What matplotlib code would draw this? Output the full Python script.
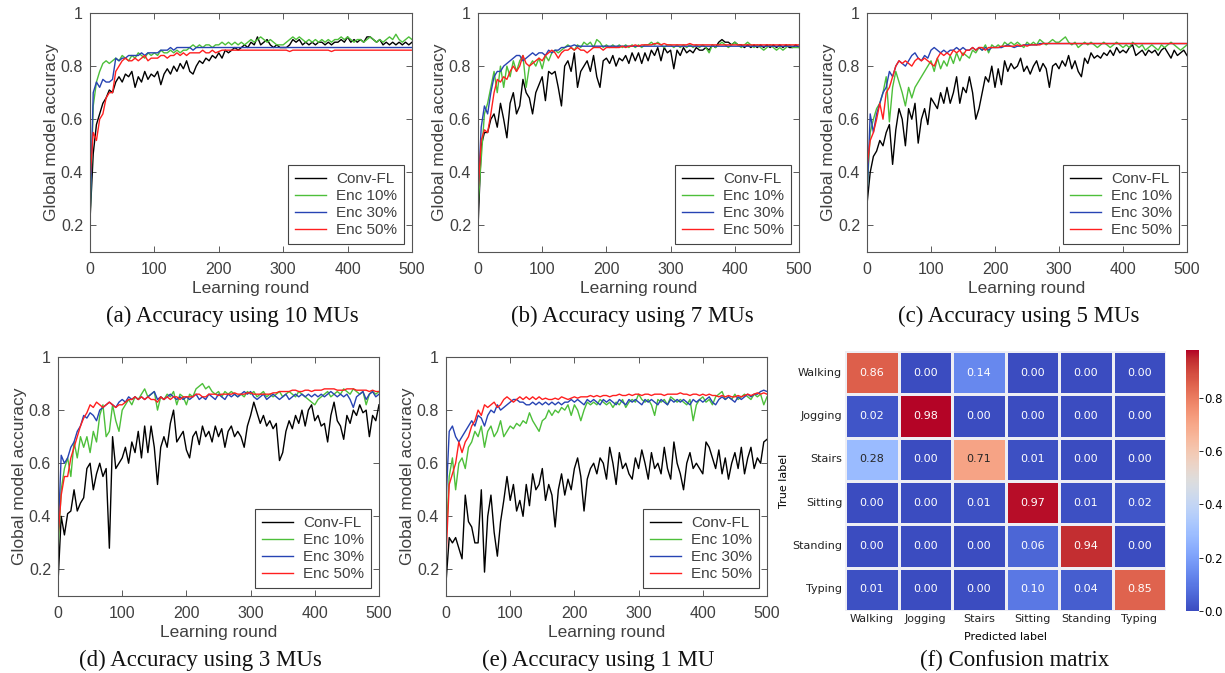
import numpy as np
import matplotlib
matplotlib.use('Agg')
import matplotlib.pyplot as plt
import seaborn as sns

rounds = list(range(0, 501, 5))

# ---- (a) 10 MUs ----
conv_a = [0.22, 0.47, 0.58, 0.62, 0.66, 0.68, 0.71, 0.70, 0.74, 0.76,
          0.74, 0.77, 0.76, 0.78, 0.72, 0.76, 0.74, 0.78, 0.75, 0.77,
          0.76, 0.78, 0.73, 0.77, 0.79, 0.77, 0.80, 0.78, 0.81, 0.79,
          0.82, 0.78, 0.77, 0.80, 0.82, 0.81, 0.83, 0.82, 0.84, 0.83,
          0.85, 0.83, 0.86, 0.85, 0.86, 0.87, 0.86, 0.87, 0.88, 0.87,
          0.89, 0.88, 0.91, 0.88, 0.89, 0.90, 0.88, 0.87, 0.88, 0.87,
          0.87, 0.87, 0.88, 0.90, 0.89, 0.90, 0.88, 0.89, 0.88, 0.89,
          0.88, 0.89, 0.89, 0.88, 0.89, 0.88, 0.89, 0.89, 0.90, 0.89,
          0.91, 0.89, 0.90, 0.89, 0.90, 0.89, 0.91, 0.91, 0.90, 0.89,
          0.90, 0.88, 0.89, 0.88, 0.89, 0.88, 0.89, 0.88, 0.89, 0.88,
          0.89]
enc10_a = [0.22, 0.65, 0.74, 0.78, 0.81, 0.82, 0.81, 0.82, 0.83, 0.82,
           0.84, 0.83, 0.82, 0.84, 0.83, 0.85, 0.84, 0.83, 0.85, 0.84,
           0.85, 0.84, 0.86, 0.85, 0.85, 0.86, 0.85, 0.86, 0.85, 0.86,
           0.86, 0.87, 0.88, 0.87, 0.88, 0.87, 0.88, 0.88, 0.87, 0.88,
           0.88, 0.89, 0.88, 0.89, 0.88, 0.89, 0.88, 0.89, 0.88, 0.89,
           0.90, 0.89, 0.90, 0.91, 0.90, 0.89, 0.90, 0.89, 0.88, 0.88,
           0.88, 0.89, 0.90, 0.91, 0.90, 0.91, 0.90, 0.89, 0.90, 0.89,
           0.90, 0.89, 0.90, 0.89, 0.90, 0.89, 0.90, 0.90, 0.91, 0.90,
           0.91, 0.90, 0.89, 0.90, 0.90, 0.89, 0.90, 0.91, 0.90, 0.89,
           0.90, 0.89, 0.90, 0.91, 0.90, 0.92, 0.90, 0.89, 0.90, 0.91,
           0.90]
enc30_a = [0.22, 0.70, 0.74, 0.72, 0.75, 0.74, 0.74, 0.75, 0.83, 0.82,
           0.83, 0.83, 0.84, 0.84, 0.84, 0.84, 0.85, 0.84, 0.85, 0.85,
           0.85, 0.85, 0.86, 0.86, 0.86, 0.87, 0.86, 0.87, 0.87, 0.87,
           0.87, 0.87, 0.86, 0.87, 0.87, 0.87, 0.87, 0.87, 0.87, 0.87,
           0.87, 0.87, 0.87, 0.87, 0.87, 0.87, 0.87, 0.87, 0.87, 0.87,
           0.87, 0.87, 0.87, 0.87, 0.87, 0.87, 0.87, 0.87, 0.87, 0.87,
           0.87, 0.87, 0.87, 0.87, 0.87, 0.87, 0.87, 0.87, 0.87, 0.87,
           0.87, 0.87, 0.87, 0.87, 0.87, 0.87, 0.87, 0.87, 0.87, 0.87,
           0.87, 0.87, 0.87, 0.87, 0.87, 0.87, 0.87, 0.87, 0.87, 0.87,
           0.87, 0.87, 0.87, 0.87, 0.87, 0.87, 0.87, 0.87, 0.87, 0.87,
           0.87]
enc50_a = [0.37, 0.55, 0.52, 0.60, 0.62, 0.68, 0.70, 0.70, 0.78, 0.80,
           0.82, 0.83, 0.82, 0.82, 0.83, 0.82, 0.83, 0.84, 0.82, 0.83,
           0.83, 0.83, 0.84, 0.84, 0.83, 0.84, 0.84, 0.85, 0.84, 0.85,
           0.84, 0.85, 0.85, 0.85, 0.85, 0.86, 0.85, 0.85, 0.86, 0.85,
           0.855, 0.86, 0.86, 0.86, 0.86, 0.86, 0.86, 0.86, 0.86, 0.86,
           0.86, 0.86, 0.86, 0.86, 0.86, 0.86, 0.86, 0.86, 0.86, 0.86,
           0.86, 0.86, 0.855, 0.86, 0.86, 0.86, 0.86, 0.86, 0.86, 0.86,
           0.86, 0.86, 0.86, 0.86, 0.86, 0.855, 0.86, 0.86, 0.86, 0.86,
           0.86, 0.86, 0.86, 0.86, 0.86, 0.86, 0.86, 0.86, 0.86, 0.86,
           0.86, 0.86, 0.86, 0.86, 0.86, 0.86, 0.86, 0.86, 0.86, 0.86,
           0.86]

# ---- (b) 7 MUs ----
conv_b = [0.19, 0.50, 0.55, 0.55, 0.60, 0.62, 0.57, 0.66, 0.60, 0.53,
          0.66, 0.70, 0.62, 0.65, 0.75, 0.70, 0.68, 0.62, 0.70, 0.73,
          0.76, 0.67, 0.78, 0.77, 0.78, 0.72, 0.65, 0.80, 0.82, 0.78,
          0.85, 0.72, 0.78, 0.80, 0.82, 0.78, 0.84, 0.76, 0.72, 0.82,
          0.83, 0.81, 0.84, 0.80, 0.83, 0.82, 0.84, 0.81, 0.85, 0.82,
          0.85, 0.81, 0.85, 0.82, 0.86, 0.84, 0.87, 0.82, 0.87, 0.85,
          0.86, 0.79, 0.86, 0.84, 0.87, 0.85, 0.86, 0.85, 0.87, 0.86,
          0.86, 0.87, 0.86, 0.88, 0.87, 0.89, 0.90, 0.89, 0.89, 0.88,
          0.89, 0.88, 0.88, 0.87, 0.88, 0.87, 0.88, 0.87, 0.88, 0.87,
          0.88, 0.87, 0.88, 0.87, 0.88, 0.87, 0.88, 0.87, 0.87, 0.88,
          0.87]
enc10_b = [0.27, 0.45, 0.62, 0.66, 0.72, 0.78, 0.70, 0.80, 0.72, 0.80,
           0.76, 0.82, 0.78, 0.82, 0.84, 0.72, 0.80, 0.82, 0.80, 0.83,
           0.79, 0.84, 0.82, 0.85, 0.86, 0.85, 0.86, 0.87, 0.88, 0.87,
           0.86, 0.88, 0.87, 0.89, 0.88, 0.89, 0.87, 0.90, 0.89, 0.87,
           0.88, 0.87, 0.88, 0.87, 0.88, 0.87, 0.88, 0.87, 0.88, 0.87,
           0.88, 0.87, 0.88, 0.88, 0.89, 0.88, 0.89, 0.88, 0.87, 0.88,
           0.88, 0.87, 0.88, 0.87, 0.88, 0.87, 0.88, 0.87, 0.88, 0.87,
           0.88, 0.87, 0.85, 0.88, 0.87, 0.88, 0.89, 0.88, 0.87, 0.88,
           0.89, 0.88, 0.87, 0.88, 0.89, 0.88, 0.87, 0.88, 0.87, 0.86,
           0.87, 0.88, 0.87, 0.86, 0.87, 0.86, 0.87, 0.88, 0.87, 0.87,
           0.87]
enc30_b = [0.32, 0.57, 0.65, 0.62, 0.70, 0.76, 0.78, 0.78, 0.80, 0.81,
           0.82, 0.83, 0.84, 0.84, 0.82, 0.83, 0.84, 0.85, 0.84, 0.85,
           0.85, 0.84, 0.86, 0.85, 0.86, 0.86, 0.87, 0.87, 0.875, 0.875,
           0.88, 0.875, 0.875, 0.875, 0.875, 0.875, 0.875, 0.875, 0.875, 0.875,
           0.875, 0.875, 0.875, 0.875, 0.875, 0.875, 0.875, 0.875, 0.875, 0.875,
           0.875, 0.875, 0.875, 0.875, 0.875, 0.875, 0.875, 0.875, 0.875, 0.875,
           0.875, 0.875, 0.875, 0.875, 0.875, 0.875, 0.875, 0.875, 0.875, 0.875,
           0.875, 0.875, 0.875, 0.875, 0.875, 0.875, 0.875, 0.875, 0.875, 0.875,
           0.875, 0.875, 0.875, 0.875, 0.875, 0.875, 0.875, 0.875, 0.875, 0.875,
           0.875, 0.875, 0.875, 0.875, 0.875, 0.875, 0.875, 0.875, 0.875, 0.875,
           0.875]
enc50_b = [0.32, 0.52, 0.56, 0.55, 0.62, 0.70, 0.75, 0.74, 0.76, 0.75,
           0.78, 0.80, 0.78, 0.80, 0.84, 0.81, 0.80, 0.81, 0.82, 0.83,
           0.82, 0.84, 0.85, 0.86, 0.85, 0.83, 0.85, 0.86, 0.86, 0.87,
           0.86, 0.87, 0.86, 0.86, 0.85, 0.86, 0.87, 0.87, 0.87, 0.86,
           0.87, 0.87, 0.87, 0.87, 0.87, 0.875, 0.87, 0.875, 0.875, 0.88,
           0.875, 0.88, 0.88, 0.88, 0.88, 0.885, 0.885, 0.88, 0.885, 0.88,
           0.88, 0.88, 0.88, 0.88, 0.88, 0.88, 0.885, 0.88, 0.88, 0.88,
           0.88, 0.88, 0.88, 0.88, 0.88, 0.88, 0.88, 0.88, 0.88, 0.88,
           0.88, 0.88, 0.88, 0.88, 0.88, 0.88, 0.88, 0.88, 0.88, 0.88,
           0.88, 0.88, 0.88, 0.88, 0.88, 0.88, 0.88, 0.88, 0.88, 0.88,
           0.88]

# ---- (c) 5 MUs ----
conv_c = [0.28, 0.40, 0.46, 0.48, 0.52, 0.50, 0.55, 0.58, 0.43, 0.56,
          0.64, 0.60, 0.50, 0.64, 0.60, 0.66, 0.51, 0.60, 0.64, 0.58,
          0.68, 0.66, 0.64, 0.70, 0.66, 0.72, 0.66, 0.70, 0.76, 0.66,
          0.72, 0.70, 0.76, 0.70, 0.60, 0.64, 0.70, 0.76, 0.74, 0.80,
          0.72, 0.79, 0.73, 0.82, 0.78, 0.81, 0.79, 0.80, 0.83, 0.78,
          0.80, 0.77, 0.80, 0.82, 0.78, 0.81, 0.79, 0.72, 0.80, 0.81,
          0.79, 0.82, 0.80, 0.84, 0.79, 0.82, 0.78, 0.76, 0.83, 0.81,
          0.85, 0.83, 0.84, 0.83, 0.85, 0.84, 0.86, 0.84, 0.87, 0.85,
          0.86, 0.85, 0.87, 0.88, 0.84, 0.85, 0.86, 0.84, 0.86, 0.85,
          0.86, 0.84, 0.86, 0.87, 0.85, 0.83, 0.86, 0.84, 0.85, 0.86,
          0.84]
enc10_c = [0.32, 0.55, 0.60, 0.64, 0.66, 0.70, 0.76, 0.59, 0.72, 0.78,
           0.74, 0.70, 0.65, 0.72, 0.68, 0.72, 0.74, 0.76, 0.78, 0.80,
           0.82, 0.78, 0.83, 0.79, 0.82, 0.80, 0.84, 0.81, 0.85, 0.82,
           0.85, 0.84, 0.83, 0.86, 0.85, 0.87, 0.86, 0.88, 0.85, 0.88,
           0.87, 0.88, 0.87, 0.89, 0.88, 0.89, 0.88, 0.89, 0.88, 0.87,
           0.89, 0.88, 0.89, 0.88, 0.90, 0.89, 0.88, 0.89, 0.90, 0.89,
           0.89, 0.90, 0.91, 0.89, 0.88, 0.89, 0.87, 0.88, 0.89, 0.88,
           0.89, 0.88, 0.87, 0.88, 0.89, 0.88, 0.87, 0.88, 0.89, 0.88,
           0.87, 0.88, 0.87, 0.89, 0.88, 0.87, 0.88, 0.86, 0.87, 0.88,
           0.87, 0.86, 0.88, 0.87, 0.88, 0.89, 0.88, 0.87, 0.86, 0.87,
           0.88]
enc30_c = [0.30, 0.62, 0.55, 0.62, 0.66, 0.70, 0.72, 0.78, 0.76, 0.80,
           0.82, 0.81, 0.80, 0.82, 0.84, 0.85, 0.83, 0.82, 0.84, 0.83,
           0.86, 0.87, 0.86, 0.85, 0.86, 0.85, 0.86, 0.86, 0.87, 0.86,
           0.87, 0.86, 0.86, 0.87, 0.86, 0.87, 0.86, 0.87, 0.86, 0.87,
           0.87, 0.87, 0.87, 0.875, 0.88, 0.875, 0.87, 0.875, 0.875, 0.88,
           0.88, 0.88, 0.88, 0.88, 0.885, 0.885, 0.885, 0.885, 0.885, 0.885,
           0.885, 0.885, 0.885, 0.885, 0.885, 0.885, 0.885, 0.885, 0.885, 0.885,
           0.885, 0.885, 0.885, 0.885, 0.885, 0.885, 0.885, 0.885, 0.885, 0.885,
           0.885, 0.885, 0.885, 0.885, 0.885, 0.885, 0.885, 0.885, 0.885, 0.885,
           0.885, 0.885, 0.885, 0.885, 0.885, 0.885, 0.885, 0.885, 0.885, 0.885,
           0.885]
enc50_c = [0.42, 0.52, 0.55, 0.60, 0.66, 0.60, 0.70, 0.72, 0.76, 0.80,
           0.82, 0.81, 0.82, 0.81, 0.80, 0.82, 0.83, 0.82, 0.83, 0.82,
           0.81, 0.80, 0.83, 0.85, 0.84, 0.85, 0.84, 0.86, 0.85, 0.86,
           0.84, 0.86, 0.86, 0.87, 0.86, 0.87, 0.87, 0.86, 0.87, 0.87,
           0.87, 0.87, 0.875, 0.875, 0.875, 0.875, 0.875, 0.88, 0.875, 0.88,
           0.875, 0.88, 0.88, 0.88, 0.88, 0.885, 0.885, 0.885, 0.885, 0.885,
           0.885, 0.885, 0.885, 0.885, 0.885, 0.885, 0.885, 0.885, 0.885, 0.885,
           0.885, 0.885, 0.885, 0.885, 0.885, 0.885, 0.885, 0.885, 0.885, 0.885,
           0.885, 0.885, 0.885, 0.885, 0.885, 0.885, 0.885, 0.885, 0.885, 0.885,
           0.885, 0.885, 0.885, 0.885, 0.885, 0.885, 0.885, 0.885, 0.885, 0.885,
           0.885]

# ---- (d) 3 MUs ----
conv_d = [0.15, 0.40, 0.33, 0.41, 0.42, 0.50, 0.42, 0.45, 0.47, 0.58,
          0.60, 0.50, 0.56, 0.60, 0.55, 0.58, 0.28, 0.70, 0.58, 0.60,
          0.62, 0.66, 0.60, 0.68, 0.64, 0.72, 0.62, 0.74, 0.64, 0.74,
          0.66, 0.52, 0.66, 0.70, 0.66, 0.75, 0.80, 0.68, 0.70, 0.72,
          0.65, 0.62, 0.70, 0.72, 0.67, 0.74, 0.70, 0.72, 0.68, 0.74,
          0.70, 0.73, 0.66, 0.72, 0.74, 0.70, 0.72, 0.70, 0.66, 0.74,
          0.78, 0.83, 0.79, 0.75, 0.78, 0.74, 0.76, 0.73, 0.75, 0.61,
          0.64, 0.72, 0.76, 0.73, 0.78, 0.75, 0.80, 0.74, 0.80, 0.82,
          0.76, 0.78, 0.74, 0.75, 0.68, 0.78, 0.83, 0.76, 0.74, 0.69,
          0.78, 0.75, 0.80, 0.78, 0.82, 0.79, 0.80, 0.70, 0.78, 0.76,
          0.82]
enc10_d = [0.27, 0.50, 0.58, 0.62, 0.55, 0.68, 0.62, 0.70, 0.66, 0.70,
           0.64, 0.72, 0.68, 0.78, 0.82, 0.70, 0.72, 0.82, 0.76, 0.72,
           0.80, 0.82, 0.84, 0.82, 0.85, 0.84, 0.86, 0.88, 0.85, 0.86,
           0.87, 0.80, 0.85, 0.84, 0.86, 0.85, 0.87, 0.82, 0.86, 0.85,
           0.82, 0.86, 0.85, 0.88, 0.89, 0.90, 0.88, 0.89, 0.87, 0.86,
           0.87, 0.85, 0.87, 0.86, 0.87, 0.86, 0.85, 0.86, 0.85, 0.87,
           0.86, 0.87, 0.85, 0.86, 0.87, 0.85, 0.86, 0.85, 0.86, 0.87,
           0.85, 0.86, 0.87, 0.86, 0.85, 0.87, 0.86, 0.85, 0.84, 0.83,
           0.82, 0.84, 0.85, 0.86, 0.87, 0.85, 0.86, 0.87, 0.86, 0.88,
           0.87, 0.86, 0.88, 0.87, 0.86, 0.87, 0.82, 0.86, 0.87, 0.86,
           0.87]
enc30_d = [0.32, 0.63, 0.60, 0.62, 0.66, 0.68, 0.72, 0.74, 0.78, 0.77,
           0.79, 0.78, 0.76, 0.80, 0.81, 0.82, 0.83, 0.82, 0.81, 0.83,
           0.84, 0.83, 0.85, 0.84, 0.85, 0.84, 0.85, 0.84, 0.85, 0.86,
           0.87, 0.84, 0.85, 0.84, 0.85, 0.86, 0.85, 0.84, 0.85, 0.84,
           0.85, 0.84, 0.85, 0.86, 0.84, 0.85, 0.84, 0.86, 0.85, 0.84,
           0.86, 0.85, 0.84, 0.86, 0.85, 0.86, 0.85, 0.86, 0.87, 0.86,
           0.87, 0.85, 0.84, 0.85, 0.86, 0.84, 0.85, 0.86, 0.85, 0.84,
           0.85, 0.86, 0.84, 0.85, 0.86, 0.85, 0.86, 0.85, 0.86, 0.85,
           0.86, 0.85, 0.86, 0.85, 0.86, 0.87, 0.86, 0.85, 0.86, 0.85,
           0.86, 0.84, 0.81, 0.85, 0.86, 0.87, 0.84, 0.86, 0.87, 0.85,
           0.86]
enc50_d = [0.32, 0.48, 0.55, 0.55, 0.62, 0.66, 0.70, 0.74, 0.77, 0.79,
           0.82, 0.81, 0.83, 0.82, 0.81, 0.82, 0.83, 0.82, 0.81, 0.82,
           0.82, 0.83, 0.84, 0.84, 0.85, 0.84, 0.85, 0.84, 0.85, 0.84,
           0.84, 0.83, 0.85, 0.84, 0.85, 0.84, 0.85, 0.85, 0.84, 0.85,
           0.85, 0.85, 0.85, 0.86, 0.86, 0.85, 0.85, 0.86, 0.86, 0.86,
           0.855, 0.86, 0.86, 0.86, 0.86, 0.865, 0.86, 0.86, 0.86, 0.865,
           0.865, 0.86, 0.86, 0.86, 0.86, 0.86, 0.86, 0.865, 0.865, 0.87,
           0.87, 0.87, 0.87, 0.875, 0.875, 0.87, 0.87, 0.875, 0.875, 0.87,
           0.875, 0.875, 0.875, 0.88, 0.88, 0.88, 0.88, 0.875, 0.875, 0.875,
           0.88, 0.88, 0.88, 0.875, 0.875, 0.875, 0.875, 0.87, 0.875, 0.87,
           0.87]

# ---- (e) 1 MU ----
conv_e = [0.15, 0.32, 0.30, 0.32, 0.28, 0.24, 0.48, 0.38, 0.36, 0.30,
          0.30, 0.50, 0.19, 0.40, 0.48, 0.34, 0.25, 0.38, 0.46, 0.55,
          0.46, 0.52, 0.42, 0.46, 0.40, 0.52, 0.44, 0.56, 0.50, 0.52,
          0.58, 0.46, 0.52, 0.48, 0.36, 0.50, 0.56, 0.48, 0.54, 0.50,
          0.58, 0.62, 0.55, 0.42, 0.54, 0.58, 0.60, 0.56, 0.62, 0.60,
          0.54, 0.66, 0.60, 0.52, 0.64, 0.58, 0.60, 0.56, 0.54, 0.62,
          0.58, 0.65, 0.60, 0.54, 0.64, 0.58, 0.60, 0.56, 0.66, 0.58,
          0.54, 0.68, 0.60, 0.56, 0.50, 0.60, 0.64, 0.58, 0.60, 0.58,
          0.56, 0.68, 0.66, 0.62, 0.58, 0.65, 0.56, 0.62, 0.54, 0.60,
          0.64, 0.58, 0.66, 0.56, 0.62, 0.66, 0.58, 0.62, 0.60, 0.68,
          0.69]
enc10_e = [0.30, 0.55, 0.62, 0.50, 0.60, 0.62, 0.58, 0.66, 0.68, 0.72,
           0.70, 0.74, 0.66, 0.72, 0.74, 0.70, 0.72, 0.76, 0.70, 0.72,
           0.74, 0.73, 0.75, 0.74, 0.76, 0.75, 0.79, 0.76, 0.74, 0.72,
           0.76, 0.77, 0.80, 0.78, 0.80, 0.79, 0.81, 0.80, 0.82, 0.78,
           0.82, 0.80, 0.76, 0.80, 0.83, 0.82, 0.83, 0.82, 0.84, 0.83,
           0.82, 0.83, 0.81, 0.83, 0.82, 0.84, 0.81, 0.83, 0.84, 0.83,
           0.86, 0.84, 0.83, 0.84, 0.82, 0.78, 0.84, 0.83, 0.84, 0.82,
           0.85, 0.84, 0.83, 0.84, 0.83, 0.82, 0.84, 0.76, 0.82, 0.84,
           0.85, 0.83, 0.84, 0.82, 0.85, 0.86, 0.87, 0.84, 0.85, 0.84,
           0.86, 0.84, 0.85, 0.86, 0.85, 0.84, 0.86, 0.85, 0.86, 0.82,
           0.85]
enc30_e = [0.45, 0.72, 0.74, 0.70, 0.68, 0.70, 0.72, 0.74, 0.76, 0.74,
           0.78, 0.77, 0.74, 0.78, 0.80, 0.79, 0.82, 0.80, 0.81, 0.82,
           0.83, 0.84, 0.84, 0.83, 0.83, 0.82, 0.82, 0.83, 0.82, 0.83,
           0.82, 0.83, 0.82, 0.83, 0.82, 0.83, 0.82, 0.83, 0.83, 0.84,
           0.83, 0.84, 0.83, 0.82, 0.84, 0.83, 0.84, 0.83, 0.82, 0.84,
           0.83, 0.84, 0.83, 0.82, 0.84, 0.83, 0.82, 0.84, 0.83, 0.84,
           0.83, 0.82, 0.84, 0.83, 0.84, 0.83, 0.82, 0.84, 0.83, 0.82,
           0.84, 0.83, 0.84, 0.83, 0.84, 0.83, 0.82, 0.84, 0.83, 0.84,
           0.83, 0.84, 0.85, 0.83, 0.82, 0.84, 0.85, 0.84, 0.85, 0.84,
           0.83, 0.85, 0.84, 0.85, 0.86, 0.85, 0.86, 0.86, 0.87, 0.875,
           0.87]
enc50_e = [0.24, 0.52, 0.56, 0.60, 0.68, 0.64, 0.68, 0.70, 0.74, 0.76,
           0.80, 0.78, 0.82, 0.81, 0.82, 0.83, 0.81, 0.82, 0.84, 0.85,
           0.84, 0.83, 0.84, 0.85, 0.84, 0.85, 0.84, 0.85, 0.84, 0.85,
           0.84, 0.845, 0.84, 0.84, 0.845, 0.84, 0.85, 0.845, 0.84, 0.845,
           0.85, 0.845, 0.85, 0.85, 0.85, 0.855, 0.85, 0.855, 0.85, 0.855,
           0.855, 0.85, 0.855, 0.855, 0.86, 0.855, 0.855, 0.86, 0.855, 0.86,
           0.86, 0.855, 0.86, 0.86, 0.855, 0.86, 0.86, 0.86, 0.855, 0.86,
           0.86, 0.86, 0.86, 0.865, 0.86, 0.86, 0.855, 0.86, 0.86, 0.855,
           0.86, 0.855, 0.86, 0.855, 0.855, 0.85, 0.855, 0.85, 0.855, 0.85,
           0.85, 0.855, 0.85, 0.855, 0.86, 0.855, 0.86, 0.865, 0.86, 0.865,
           0.86]

# ---- (f) confusion matrix ----
activities = ['Walking', 'Jogging', 'Stairs', 'Sitting', 'Standing', 'Typing']
conf_matrix = [[0.86, 0.00, 0.14, 0.00, 0.00, 0.00],
               [0.02, 0.98, 0.00, 0.00, 0.00, 0.00],
               [0.28, 0.00, 0.71, 0.01, 0.00, 0.00],
               [0.00, 0.00, 0.01, 0.97, 0.01, 0.02],
               [0.00, 0.00, 0.00, 0.06, 0.94, 0.00],
               [0.01, 0.00, 0.00, 0.10, 0.04, 0.85]]

series_names = ['Conv-FL', 'Enc 10%', 'Enc 30%', 'Enc 50%']
series_colors = ['black', '#4dbf3a', '#2743b3', '#ff1f1f']

W, H = 1225, 673
GRAY = '#404040'


def box(left, right, top, bottom):
    # pixel box -> figure fraction
    return [left / W, 1 - bottom / H, (right - left) / W, (bottom - top) / H]


def plot_accuracy(ax, curves):
    for values, name, color in zip(curves, series_names, series_colors):
        ax.plot(rounds, values, color=color, linewidth=1.0, label=name)
    ax.set_xlim(0, 500)
    ax.set_ylim(0.1, 1)
    ax.set_xticks([0, 100, 200, 300, 400, 500])
    ax.set_yticks([0.2, 0.4, 0.6, 0.8, 1.0])
    ax.set_yticklabels(['0.2', '0.4', '0.6', '0.8', '1'])
    ax.tick_params(direction='in', top=True, right=True, length=4, width=0.6,
                   colors=GRAY, labelsize=11.5)
    ax.tick_params(axis='x', pad=7)
    ax.tick_params(axis='y', pad=5)
    for s in ax.spines.values():
        s.set_color('#555555')
        s.set_linewidth(0.8)
    ax.set_xlabel('Learning round', fontsize=12.5, color=GRAY, labelpad=3)
    ax.set_ylabel('Global model accuracy', fontsize=12.5, color=GRAY, labelpad=1)
    leg = ax.legend(loc='lower right', fontsize=11, frameon=True, fancybox=False,
                    handlelength=2.0, labelspacing=0.2, borderpad=0.45,
                    handletextpad=0.7, borderaxespad=0.5, framealpha=1)
    leg.get_frame().set_edgecolor('#444444')
    leg.get_frame().set_linewidth(0.8)
    for t in leg.get_texts():
        t.set_color(GRAY)


plt.rcParams['font.family'] = ['Liberation Sans', 'DejaVu Sans']

fig = plt.figure(figsize=(W / 100, H / 100), dpi=100)

panels = [
    (box(90, 412, 13, 252), [conv_a, enc10_a, enc30_a, enc50_a]),
    (box(478, 799, 13, 252), [conv_b, enc10_b, enc30_b, enc50_b]),
    (box(867, 1187, 13, 252), [conv_c, enc10_c, enc30_c, enc50_c]),
    (box(58, 379, 357, 596), [conv_d, enc10_d, enc30_d, enc50_d]),
    (box(446, 767, 357, 596), [conv_e, enc10_e, enc30_e, enc50_e]),
]
for rect, curves in panels:
    ax = fig.add_axes(rect)
    plot_accuracy(ax, curves)

# confusion matrix
ax_f = fig.add_axes(box(845, 1166, 351, 611))
cax = fig.add_axes(box(1186, 1199, 350, 611))
sns.heatmap(np.array(conf_matrix), annot=True, fmt='.2f', cmap='coolwarm',
            linewidths=0.8, linecolor='#eeeef4', ax=ax_f, cbar_ax=cax,
            xticklabels=activities, yticklabels=activities,
            annot_kws={'fontsize': 8, 'family': 'DejaVu Sans'})
ax_f.tick_params(length=0, labelsize=8, pad=2)
ax_f.set_yticklabels(activities, rotation=0)
ax_f.set_xticklabels(activities, rotation=0)
for lbl in ax_f.get_xticklabels() + ax_f.get_yticklabels():
    lbl.set_family('DejaVu Sans')
    lbl.set_color('#222222')
ax_f.set_xlabel('Predicted label', fontsize=8, family='DejaVu Sans', labelpad=6)
ax_f.set_ylabel('True label', fontsize=8, family='DejaVu Sans', labelpad=2)
cax.set_yticks([0.0, 0.2, 0.4, 0.6, 0.8])
cax.tick_params(labelsize=8.5, length=3, width=0.6, pad=1)
for lbl in cax.get_yticklabels():
    lbl.set_family('DejaVu Sans')

captions = [
    (232, 316, '(a) Accuracy using 10 MUs'),
    (632, 316, '(b) Accuracy using 7 MUs'),
    (1019, 316, '(c) Accuracy using 5 MUs'),
    (200, 660, '(d) Accuracy using 3 MUs'),
    (598, 660, '(e) Accuracy using 1 MU'),
    (1015, 660, '(f) Confusion matrix'),
]
for x, y, text in captions:
    fig.text(x / W, 1 - y / H, text, ha='center', va='center',
             family='Liberation Serif', fontsize=16.5, color='#111111')

fig.savefig('out.png', dpi=100)
